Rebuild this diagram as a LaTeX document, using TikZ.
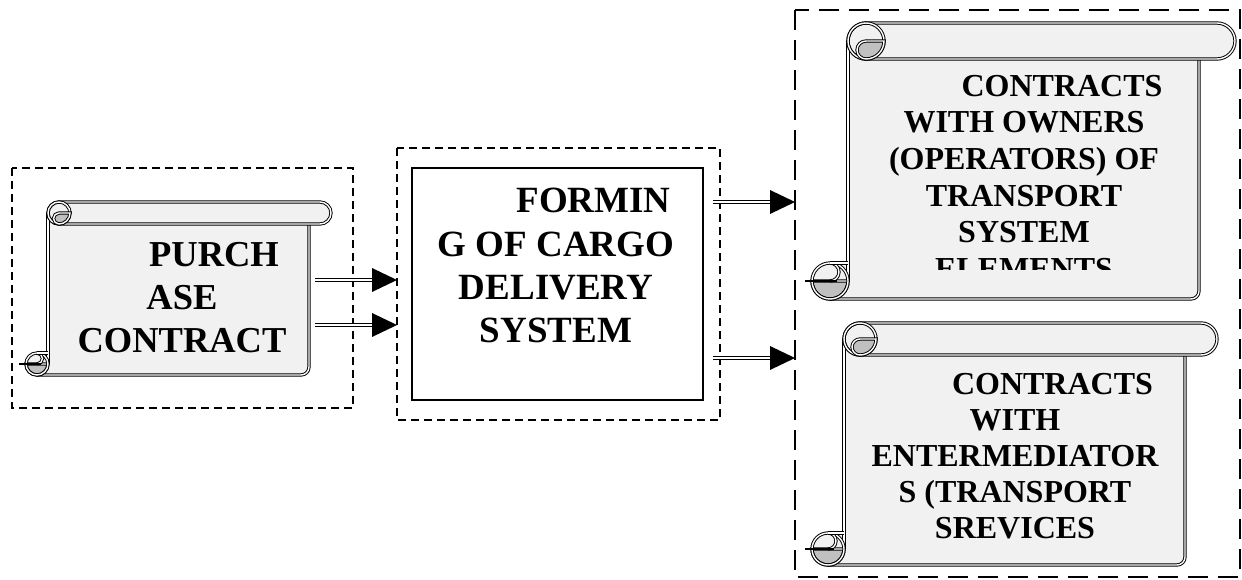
\documentclass[tikz,border=0pt]{standalone}
\usepackage{fontspec}
\setmainfont{Liberation Serif}
\begin{document}
\begin{tikzpicture}[x=1pt,y=-1pt,
  sfill/.style={fill=scrollgray},
  sdark/.style={fill=curlgray},
  sline/.style={draw=black,double=white,double distance=1.4pt,line width=0.95pt},
  dashbox/.style={draw=black,line width=2pt,dash pattern=on 8pt off 5pt},
  bigdashbox/.style={draw=black,line width=2.4pt,dash pattern=on 20pt off 10pt},
  solidbox/.style={draw=black,line width=2.6pt},
  shaft/.style={draw=black,double=white,double distance=2.2pt,line width=0.8pt,shorten >=23pt},
  headtip/.style={fill=black},
  txt/.style={align=center,anchor=north,inner sep=0pt,text=black}]
\definecolor{scrollgray}{RGB}{241,241,241}
\definecolor{curlgray}{RGB}{192,192,192}
\newcommand\drawscroll[5]{%
  \pgfmathsetmacro\sL{#1}\pgfmathsetmacro\sT{#2}\pgfmathsetmacro\sR{#3}%
  \pgfmathsetmacro\sB{#4}\pgfmathsetmacro\sr{#5}%
  \pgfmathsetmacro\sxl{\sL+2*\sr}\pgfmathsetmacro\sxr{\sR-2*\sr}%
  \pgfmathsetmacro\shr{\sr/2}%
  % body
  \fill[sfill,rounded corners=8pt] (\sxl,{\sT+\sr}) -- (\sxr,{\sT+\sr}) -- (\sxr,\sB) -- ({\sL+\sr},\sB) -- ({\sL+\sr},{\sB-2*\sr}) -- (\sxl,{\sB-2*\sr}) -- cycle;
  \draw[sline] (\sxl,{\sT+\sr}) -- (\sxl,{\sB-\sr});
  \draw[sline,rounded corners=8pt] (\sxr,{\sT+2*\sr}) -- (\sxr,\sB) -- ({\sL+\sr},\sB);
  % bottom curl
  \fill[sfill] ({\sL+\sr},{\sB-\sr}) circle[radius=\sr];
  \filldraw[sdark,sline] (\sL,{\sB-\sr}) arc[start angle=180,end angle=0,radius=\sr] -- cycle;
  \draw[sline] ({\sL+\sr},{\sB-\sr}) circle[radius=\sr];
  \draw[sline] ({\sL+\sr},{\sB-2*\sr}) arc[start angle=270,end angle=450,radius=\shr];
  \draw[sline] ({\sL+\sr},{\sB-2*\sr}) -- (\sxl,{\sB-2*\sr});
  \draw[line width=2.5pt] ({\sL-7},{\sB-\sr}) -- ({\sL+1.4*\sr},{\sB-\sr});
  % top roll
  \filldraw[sfill,sline] ({\sxl+\sr},\sT) -- ({\sR-\sr},\sT) arc[start angle=270,end angle=450,radius=\sr] -- ({\sxl+\sr},{\sT+2*\sr}) arc[start angle=90,end angle=270,radius=\sr] -- cycle;
  \draw[sline] ({\sxl+\sr},{\sT+\sr}) circle[radius=\sr];
  \filldraw[sdark,sline] ({\sxl+\sr},{\sT+\sr}) arc[start angle=270,end angle=90,radius=\shr] arc[start angle=90,end angle=0,radius=\sr] -- cycle;
}
\useasboundingbox (0,0) rectangle (1242,580);
\fill[white] (0,0) rectangle (1242,580);

% dashed frames
\draw[dashbox] (12,168) rectangle (353,408);
\draw[dashbox] (397,148) rectangle (720,420);
\draw[bigdashbox] (795,10) rectangle (1240,577);

% scrolls
\drawscroll{26}{202}{331}{375}{11}
\drawscroll{812}{23}{1235}{299}{18}
\drawscroll{812}{323}{1217}{565}{16}

% middle box
\draw[solidbox] (412,168) rectangle (703,400);

% texts
\node[txt,font={\fontsize{36.5pt}{43pt}\selectfont\bfseries}] (purchase) at (182,242.3)
  {\hspace*{64pt}PURCH\\ASE\\CONTRACT};
\node[txt,font={\fontsize{37pt}{43.3pt}\selectfont\bfseries}] (forming) at (556,188)
  {\hspace*{75pt}FORMIN\\G OF CARGO\\DELIVERY\\SYSTEM};
\begin{scope}
  \clip (850,60) rectangle (1199,269);
  \node[txt,font={\fontsize{32pt}{36.7pt}\selectfont\bfseries}] (owners) at (1024,74.8)
    {\hspace*{76pt}CONTRACTS\\WITH OWNERS\\(OPERATORS) OF\\TRANSPORT\\SYSTEM\\ELEMENTS};
\end{scope}
\begin{scope}
  \clip (846,356) rectangle (1185,540);
  \node[txt,font={\fontsize{32pt}{36pt}\selectfont\bfseries}] (inter) at (1015,373.3)
    {\hspace*{75pt}CONTRACTS\\WITH\\ENTERMEDIATOR\\S (TRANSPORT\\SREVICES};
\end{scope}

% connectors
\coordinate (a1s) at (315,280); \coordinate (a1e) at (397,280);
\coordinate (a2s) at (315,325); \coordinate (a2e) at (397,325);
\coordinate (b1s) at (713,202); \coordinate (b1e) at (795,202);
\coordinate (b2s) at (713,358); \coordinate (b2e) at (795,358);
\foreach \s/\e in {a1s/a1e,a2s/a2e,b1s/b1e,b2s/b2e}{
  \draw[shaft] (\s) -- (\e);
  \fill[headtip] (\e) -- ++(-25,-12) -- ++(0,24) -- cycle;
}
\end{tikzpicture}
\end{document}
